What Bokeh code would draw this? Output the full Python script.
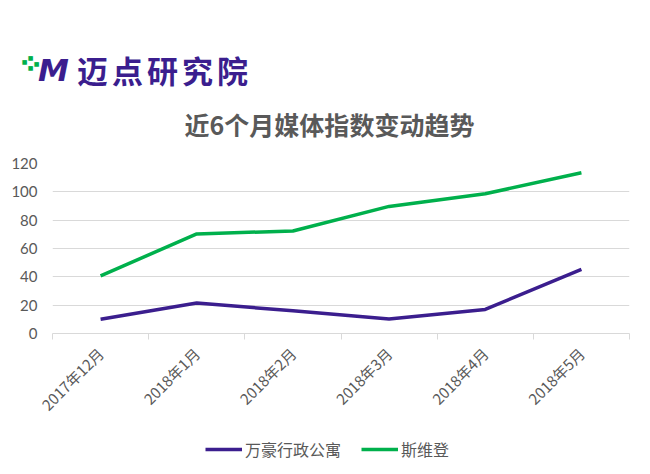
import math
from bokeh.plotting import figure
from bokeh.layouts import column
from bokeh.models import (Range1d, FixedTicker, Label, Legend, LegendItem,
                          ColumnDataSource)
from bokeh.embed import file_html
from bokeh.resources import INLINE

# ---- data ----
months = ["2017年12月", "2018年1月", "2018年2月", "2018年3月", "2018年4月", "2018年5月"]
series_names = ["万豪行政公寓", "斯维登"]
wanhao = [10, 21.5, 16, 10.3, 17, 45.2]
siweideng = [40.7, 70.3, 72.4, 89.7, 98.6, 113.5]
y_ticks = [0, 20, 40, 60, 80, 100, 120]
title_text = "近6个月媒体指数变动趋势"
logo_mark = "M"
logo_text = "迈点研究院"

PURPLE = "#3B1E8E"
GREEN = "#00B04C"
GREY_TXT = "#595959"
GRID = "#D9D9D9"
CJK = "Noto Sans CJK SC"
W = 650


def bare_fig(height, xr, yr):
    fig = figure(width=W, height=height, output_backend="svg",
                 toolbar_location=None, x_range=xr, y_range=yr,
                 x_axis_location=None, y_axis_location=None,
                 min_border=0, min_border_left=0, min_border_right=0,
                 min_border_top=0, min_border_bottom=0)
    fig.grid.visible = False
    fig.outline_line_color = None
    fig.border_fill_color = "white"
    fig.background_fill_color = "white"
    fig.frame_align = False
    return fig


# ---------- header: logo + title ----------
HH = 150
head = bare_fig(HH, Range1d(0, W), Range1d(HH, 0))
head.add_layout(Label(x=53, y=69, text=logo_mark, text_font="DejaVu Sans",
                      text_font_size="31px", text_font_style="bold italic",
                      text_color=PURPLE, text_align="center", text_baseline="middle"))
for i, ch in enumerate(logo_text):
    head.add_layout(Label(x=92 + i * 35, y=69, text=ch, text_font=CJK,
                          text_font_size="31px", text_font_style="bold",
                          text_color=PURPLE,
                          text_align="center", text_baseline="middle"))
for (sx, sy) in [(30, 57), (36, 63), (30, 67), (24, 61)]:
    head.add_layout(Label(x=sx, y=sy, text="■", text_font="DejaVu Sans",
                          text_font_size="6px", text_color=GREEN,
                          text_align="center", text_baseline="middle"))
head.add_layout(Label(x=329, y=123, text=title_text, text_font=CJK,
                      text_font_size="25px", text_font_style="bold",
                      text_color=GREY_TXT, text_align="center",
                      text_baseline="middle"))

# ---------- main chart ----------
xs = [i + 0.5 for i in range(len(months))]
p = figure(width=W, height=274, output_backend="svg", toolbar_location=None,
           x_range=Range1d(0, len(months)), y_range=Range1d(0, 120),
           min_border_left=52, min_border_right=21, min_border_top=13,
           min_border_bottom=86)
p.frame_align = False
p.outline_line_color = None
p.background_fill_color = "white"
p.border_fill_color = "white"

src = ColumnDataSource(dict(x=xs, a=wanhao, b=siweideng))
r1 = p.line("x", "a", source=src, line_color=PURPLE, line_width=3.5, line_join="round")
r2 = p.line("x", "b", source=src, line_color=GREEN, line_width=3.5, line_join="round")

p.yaxis.ticker = FixedTicker(ticks=y_ticks)
p.yaxis.axis_line_color = None
p.yaxis.major_tick_line_color = None
p.yaxis.minor_tick_line_color = None
p.yaxis.major_tick_out = 0
p.yaxis.major_label_text_color = GREY_TXT
p.yaxis.major_label_text_font = "Lato"
p.yaxis.major_label_text_font_size = "15px"
p.yaxis.major_label_standoff = 15
p.ygrid.grid_line_color = GRID
p.ygrid.ticker = FixedTicker(ticks=y_ticks[1:])
p.xgrid.grid_line_color = None

p.xaxis.ticker = FixedTicker(ticks=xs, minor_ticks=list(range(len(months) + 1)))
p.xaxis.major_label_overrides = {x: m for x, m in zip(xs, months)}
p.xaxis.axis_line_color = GRID
p.xaxis.major_tick_line_color = None
p.xaxis.major_tick_out = 0
p.xaxis.major_tick_in = 0
p.xaxis.minor_tick_line_color = GRID
p.xaxis.minor_tick_out = 6
p.xaxis.minor_tick_in = 0
p.xaxis.major_label_orientation = math.pi / 4
p.xaxis.major_label_text_color = GREY_TXT
p.xaxis.major_label_text_font = CJK
p.xaxis.major_label_text_font_size = "15px"
p.xaxis.major_label_standoff = 11

# ---------- footer: legend ----------
foot = bare_fig(474 - HH - 274, Range1d(0, 1), Range1d(0, 1))
f1 = foot.line([-1, -1], [-1, -1], line_color=PURPLE, line_width=3.5)
f2 = foot.line([-1, -1], [-1, -1], line_color=GREEN, line_width=3.5)
legend = Legend(items=[LegendItem(label=series_names[0], renderers=[f1]),
                       LegendItem(label=series_names[1], renderers=[f2])],
                orientation="horizontal", location=(205, 13),
                glyph_width=37, glyph_height=20, label_standoff=3, spacing=20,
                padding=0, margin=0, border_line_color=None,
                background_fill_alpha=0, label_text_font=CJK,
                label_text_font_size="16px", label_text_color=GREY_TXT)
foot.add_layout(legend, "center")

layout = column(head, p, foot, spacing=0)
open("out.html", "w").write(file_html(layout, INLINE))
